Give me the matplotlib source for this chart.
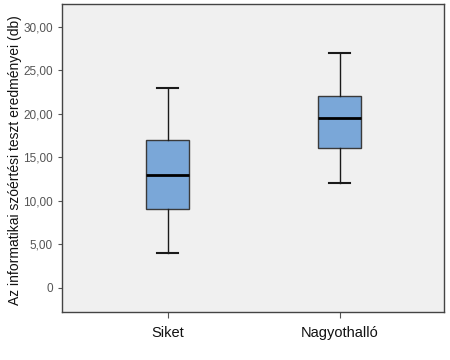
import matplotlib
matplotlib.use("Agg")
import matplotlib.pyplot as plt
from matplotlib.ticker import FuncFormatter

categories = ["Siket", "Nagyothalló"]
whislo = [4.0, 12.0]
q1 = [9.0, 16.0]
med = [13.0, 19.5]
q3 = [17.0, 22.0]
whishi = [23.0, 27.0]
yticks = [0, 5, 10, 15, 20, 25, 30]

plt.rcParams['font.family'] = ['Liberation Sans', 'DejaVu Sans']

fig = plt.figure(figsize=(4.5, 3.6), dpi=100)
fig.patch.set_facecolor('white')
ax = fig.add_axes([62/450, 48/360, 382/450, 308/360])
ax.set_facecolor('#f0f0f0')

stats = []
for i, c in enumerate(categories):
    stats.append(dict(label=c, whislo=whislo[i], q1=q1[i], med=med[i], q3=q3[i], whishi=whishi[i], fliers=[]))

ax.bxp(stats, positions=[1, 2], widths=0.25, patch_artist=True, showfliers=False,
       boxprops=dict(facecolor='#7aa7d8', edgecolor='#3a3a3a', linewidth=1.0),
       medianprops=dict(color='black', linewidth=2.0),
       whiskerprops=dict(color='#1a1a1a', linewidth=1.0),
       capprops=dict(color='#1a1a1a', linewidth=1.5),
       capwidths=0.125)

ax.set_xlim(0.385, 2.608)
ax.set_ylim(-2.8, 32.6)
ax.set_yticks(yticks)
ax.yaxis.set_major_formatter(FuncFormatter(lambda v, p: "0" if v == 0 else f"{v:.2f}".replace('.', ',')))
ax.tick_params(axis='y', labelsize=8.5, labelcolor='#555555', color='#555555', length=3, width=0.8)
ax.tick_params(axis='x', labelsize=10.5, labelcolor='#111111', color='#555555', length=4, width=0.8, pad=6)
for s in ax.spines.values():
    s.set_color('#444444')
    s.set_linewidth(1.0)
ax.set_ylabel("Az informatikai szóértési teszt eredményei (db)", fontsize=10, color='#111111')
ax.yaxis.set_label_coords(-0.105, 0.494)

fig.savefig("out.png", dpi=100)
